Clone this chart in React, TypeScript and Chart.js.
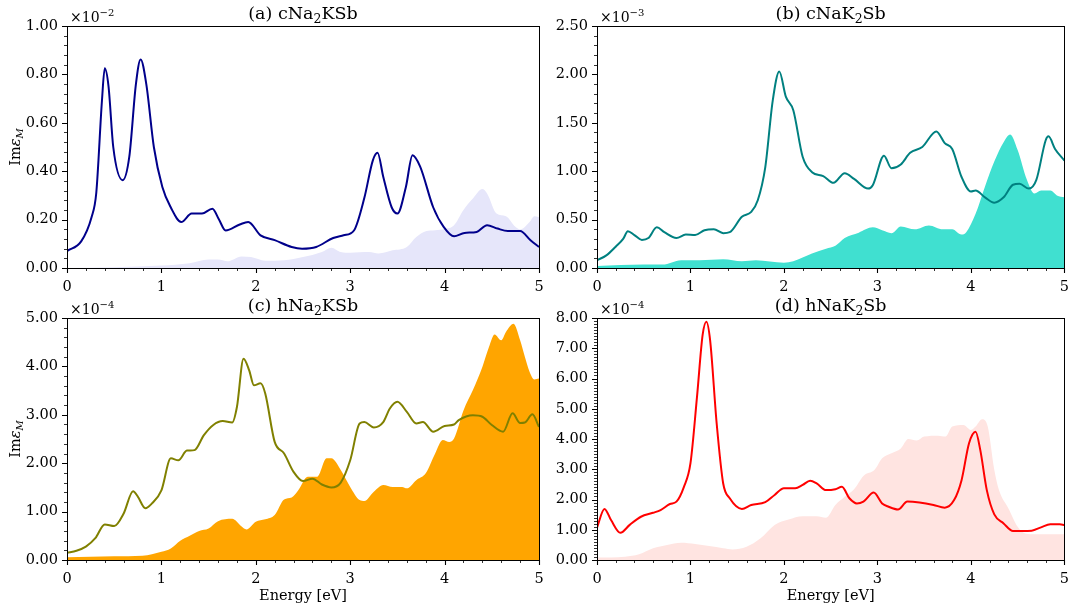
import React, { useEffect, useRef } from 'react';
import { Chart, registerables } from 'chart.js';

Chart.register(...registerables);

const FONT = '"DejaVu Serif", "Liberation Serif", serif';
const W = 1080;
const H = 611;

// ---------- (a) cNa2KSb  (values ×10^-2) ----------
const aLineE = [0, 0.15, 0.26, 0.31, 0.37, 0.40, 0.44, 0.49, 0.59, 0.66, 0.73, 0.78, 0.84, 0.92, 1.01, 1.10, 1.21, 1.32, 1.43, 1.54, 1.61, 1.68, 1.83, 1.92, 2.05, 2.20, 2.38, 2.49, 2.64, 2.82, 2.93, 3.04, 3.15, 3.24, 3.29, 3.35, 3.44, 3.50, 3.59, 3.66, 3.74, 3.88, 3.99, 4.10, 4.21, 4.34, 4.45, 4.56, 4.67, 4.80, 4.91, 5.0];
const aLineV = [0.07, 0.11, 0.21, 0.31, 0.69, 0.825, 0.75, 0.50, 0.363, 0.46, 0.76, 0.862, 0.76, 0.50, 0.335, 0.25, 0.19, 0.225, 0.225, 0.245, 0.20, 0.155, 0.18, 0.19, 0.135, 0.115, 0.087, 0.08, 0.087, 0.124, 0.135, 0.155, 0.29, 0.445, 0.476, 0.377, 0.25, 0.225, 0.335, 0.466, 0.42, 0.25, 0.17, 0.131, 0.145, 0.149, 0.177, 0.163, 0.153, 0.153, 0.115, 0.087];
const aFillE = [0, 0.5, 1.0, 1.3, 1.5, 1.6, 1.7, 1.85, 1.95, 2.1, 2.3, 2.5, 2.7, 2.8, 2.9, 3.0, 3.2, 3.3, 3.45, 3.6, 3.7, 3.8, 3.9, 4.0, 4.1, 4.2, 4.3, 4.4, 4.45, 4.55, 4.65, 4.75, 4.8, 4.9, 4.95, 5.0];
const aFillV = [0.0, 0.003, 0.01, 0.02, 0.035, 0.035, 0.028, 0.048, 0.045, 0.03, 0.032, 0.045, 0.066, 0.084, 0.066, 0.063, 0.066, 0.06, 0.073, 0.087, 0.128, 0.152, 0.156, 0.161, 0.177, 0.24, 0.287, 0.326, 0.308, 0.225, 0.214, 0.17, 0.159, 0.19, 0.214, 0.21];

// ---------- (b) cNaK2Sb  (values ×10^-3) ----------
const bLineE = [0, 0.1, 0.2, 0.28, 0.33, 0.4, 0.48, 0.55, 0.64, 0.72, 0.85, 0.95, 1.05, 1.15, 1.25, 1.35, 1.42, 1.55, 1.65, 1.72, 1.8, 1.88, 1.95, 2.02, 2.1, 2.2, 2.3, 2.42, 2.53, 2.65, 2.75, 2.9, 2.95, 3.07, 3.15, 3.25, 3.35, 3.48, 3.63, 3.72, 3.8, 3.9, 4.0, 4.05, 4.15, 4.25, 4.35, 4.45, 4.52, 4.62, 4.7, 4.8, 4.83, 4.9, 5.0];
const bLineV = [0.08, 0.13, 0.22, 0.30, 0.38, 0.34, 0.29, 0.31, 0.42, 0.37, 0.31, 0.345, 0.34, 0.39, 0.40, 0.36, 0.37, 0.53, 0.58, 0.70, 1.04, 1.73, 2.03, 1.77, 1.63, 1.15, 0.99, 0.95, 0.88, 0.98, 0.92, 0.82, 0.855, 1.16, 1.03, 1.07, 1.19, 1.25, 1.41, 1.29, 1.23, 0.94, 0.79, 0.80, 0.73, 0.675, 0.73, 0.86, 0.87, 0.82, 0.91, 1.32, 1.36, 1.23, 1.11];
const bFillE = [0, 0.5, 0.7, 0.9, 1.1, 1.35, 1.55, 1.7, 2.0, 2.1, 2.3, 2.45, 2.55, 2.65, 2.8, 2.95, 3.05, 3.15, 3.25, 3.4, 3.55, 3.7, 3.8, 3.9, 3.95, 4.05, 4.15, 4.25, 4.35, 4.42, 4.5, 4.6, 4.68, 4.75, 4.85, 4.92, 5.0];
const bFillV = [0.02, 0.035, 0.035, 0.08, 0.08, 0.09, 0.07, 0.08, 0.055, 0.07, 0.15, 0.20, 0.23, 0.31, 0.365, 0.42, 0.39, 0.36, 0.43, 0.40, 0.44, 0.40, 0.40, 0.345, 0.37, 0.56, 0.84, 1.10, 1.30, 1.38, 1.22, 0.91, 0.77, 0.80, 0.80, 0.75, 0.73];

// ---------- (c) hNa2KSb  (values ×10^-4) ----------
const cLineE = [0, 0.1, 0.2, 0.3, 0.4, 0.5, 0.6, 0.7, 0.75, 0.83, 0.9, 1.0, 1.1, 1.18, 1.27, 1.35, 1.45, 1.55, 1.65, 1.75, 1.8, 1.87, 1.93, 1.98, 2.05, 2.1, 2.2, 2.3, 2.4, 2.5, 2.6, 2.7, 2.8, 2.9, 3.0, 3.1, 3.15, 3.25, 3.35, 3.42, 3.5, 3.6, 3.7, 3.77, 3.88, 4.0, 4.1, 4.15, 4.3, 4.4, 4.5, 4.62, 4.72, 4.8, 4.85, 4.93, 5.0];
const cLineV = [0.15, 0.19, 0.275, 0.45, 0.735, 0.70, 0.96, 1.42, 1.31, 1.07, 1.17, 1.44, 2.10, 2.06, 2.26, 2.27, 2.58, 2.79, 2.87, 2.84, 3.16, 4.16, 3.92, 3.61, 3.65, 3.44, 2.44, 2.20, 1.82, 1.63, 1.68, 1.56, 1.50, 1.60, 2.06, 2.82, 2.85, 2.74, 2.85, 3.13, 3.27, 3.06, 2.82, 2.85, 2.65, 2.77, 2.80, 2.89, 2.99, 2.96, 2.79, 2.65, 3.03, 2.83, 2.84, 3.01, 2.75];
const cFillE = [0, 0.5, 0.8, 1.0, 1.1, 1.2, 1.3, 1.4, 1.5, 1.6, 1.75, 1.85, 1.9, 2.0, 2.1, 2.2, 2.3, 2.38, 2.45, 2.55, 2.65, 2.75, 2.8, 2.9, 3.0, 3.1, 3.15, 3.25, 3.35, 3.45, 3.55, 3.6, 3.7, 3.8, 3.9, 3.98, 4.05, 4.1, 4.2, 4.3, 4.4, 4.47, 4.53, 4.6, 4.65, 4.73, 4.8, 4.85, 4.9, 4.95, 5.0];
const cFillV = [0.055, 0.08, 0.09, 0.17, 0.24, 0.40, 0.50, 0.60, 0.65, 0.80, 0.85, 0.69, 0.63, 0.79, 0.84, 0.93, 1.25, 1.29, 1.44, 1.72, 1.72, 2.10, 2.10, 1.86, 1.51, 1.24, 1.22, 1.41, 1.55, 1.51, 1.51, 1.48, 1.65, 1.79, 2.20, 2.48, 2.44, 2.51, 3.09, 3.51, 3.99, 4.40, 4.66, 4.54, 4.71, 4.88, 4.54, 4.20, 3.89, 3.73, 3.75];

// ---------- (d) hNaK2Sb  (values ×10^-4) ----------
const dLineE = [0, 0.08, 0.15, 0.25, 0.35, 0.47, 0.6, 0.68, 0.78, 0.85, 0.93, 1.0, 1.07, 1.13, 1.17, 1.21, 1.28, 1.35, 1.42, 1.55, 1.65, 1.8, 1.9, 2.0, 2.12, 2.2, 2.28, 2.35, 2.45, 2.55, 2.62, 2.7, 2.78, 2.85, 2.96, 3.05, 3.12, 3.22, 3.32, 3.45, 3.6, 3.72, 3.82, 3.9, 3.98, 4.05, 4.1, 4.17, 4.25, 4.35, 4.45, 4.55, 4.65, 4.75, 4.85, 4.95, 5.0];
const dLineV = [1.07, 1.69, 1.32, 0.90, 1.16, 1.43, 1.56, 1.65, 1.85, 1.93, 2.42, 3.20, 5.40, 7.44, 7.88, 7.27, 4.52, 2.53, 2.04, 1.69, 1.82, 1.91, 2.15, 2.37, 2.37, 2.48, 2.62, 2.53, 2.31, 2.34, 2.42, 2.04, 1.87, 1.93, 2.23, 1.87, 1.76, 1.67, 1.93, 1.90, 1.82, 1.73, 1.98, 2.64, 3.86, 4.24, 3.64, 2.31, 1.51, 1.21, 0.96, 0.96, 0.97, 1.08, 1.18, 1.18, 1.16];
const dFillE = [0, 0.3, 0.45, 0.6, 0.75, 0.9, 1.05, 1.2, 1.35, 1.45, 1.6, 1.75, 1.9, 2.05, 2.2, 2.35, 2.45, 2.55, 2.65, 2.75, 2.85, 2.97, 3.05, 3.15, 3.25, 3.33, 3.42, 3.5, 3.65, 3.73, 3.8, 3.92, 4.0, 4.05, 4.12, 4.18, 4.25, 4.3, 4.4, 4.5, 4.58, 4.7, 5.0];
const dFillV = [0.08, 0.11, 0.19, 0.39, 0.50, 0.57, 0.53, 0.46, 0.39, 0.35, 0.44, 0.72, 1.16, 1.34, 1.45, 1.45, 1.40, 1.82, 2.09, 2.34, 2.78, 2.98, 3.36, 3.53, 3.69, 4.00, 3.95, 4.08, 4.11, 4.08, 4.41, 4.46, 4.30, 4.41, 4.65, 4.41, 2.98, 2.31, 1.71, 1.10, 0.88, 0.85, 0.85];

// Axis settings
const xTicks = [0, 1, 2, 3, 4, 5];

type Seg = { t: string; size: number; dy?: number; italic?: boolean };

function drawRich(ctx: CanvasRenderingContext2D, segs: Seg[], x: number, y: number, align: 'left' | 'center') {
  const fontOf = (s: Seg) => `${s.italic ? 'italic ' : ''}${s.size}px ${FONT}`;
  let total = 0;
  const widths = segs.map((s) => {
    ctx.font = fontOf(s);
    const w = ctx.measureText(s.t).width;
    total += w;
    return w;
  });
  let cx = align === 'center' ? x - total / 2 : x;
  ctx.textAlign = 'left';
  ctx.textBaseline = 'alphabetic';
  segs.forEach((s, i) => {
    ctx.font = fontOf(s);
    ctx.fillText(s.t, cx, y + (s.dy || 0));
    cx += widths[i];
  });
}

type Panel = {
  lineE: number[];
  lineV: number[];
  fillE: number[];
  fillV: number[];
  lineColor: string;
  fillColor: string;
  yMax: number;
  yStep: number;
  yMinor: number;
  title: Seg[];
  exp: string;
  area: { left: number; right: number; top: number; bottom: number };
  yLabel: boolean;
  xLabel: boolean;
};

const T = 17.5;
const S = 12.5;
const panels: Panel[] = [
  {
    lineE: aLineE, lineV: aLineV, fillE: aFillE, fillV: aFillV,
    lineColor: '#00008B', fillColor: '#E6E6FA',
    yMax: 1, yStep: 0.2, yMinor: 0.04,
    title: [{ t: '(a) cNa', size: T }, { t: '2', size: S, dy: 3.5 }, { t: 'KSb', size: T }],
    exp: '−2',
    area: { left: 67, right: 539, top: 26, bottom: 268 },
    yLabel: true, xLabel: false,
  },
  {
    lineE: bLineE, lineV: bLineV, fillE: bFillE, fillV: bFillV,
    lineColor: '#008080', fillColor: '#40E0D0',
    yMax: 2.5, yStep: 0.5, yMinor: 0.1,
    title: [{ t: '(b) cNaK', size: T }, { t: '2', size: S, dy: 3.5 }, { t: 'Sb', size: T }],
    exp: '−3',
    area: { left: 597, right: 1068, top: 26, bottom: 268 },
    yLabel: false, xLabel: false,
  },
  {
    lineE: cLineE, lineV: cLineV, fillE: cFillE, fillV: cFillV,
    lineColor: '#808000', fillColor: '#FFA500',
    yMax: 5, yStep: 1, yMinor: 0.2,
    title: [{ t: '(c) hNa', size: T }, { t: '2', size: S, dy: 3.5 }, { t: 'KSb', size: T }],
    exp: '−4',
    area: { left: 67, right: 539, top: 318, bottom: 560 },
    yLabel: true, xLabel: true,
  },
  {
    lineE: dLineE, lineV: dLineV, fillE: dFillE, fillV: dFillV,
    lineColor: '#FF0000', fillColor: '#FFE4E1',
    yMax: 8, yStep: 1, yMinor: 0.1,
    title: [{ t: '(d) hNaK', size: T }, { t: '2', size: S, dy: 3.5 }, { t: 'Sb', size: T }],
    exp: '−4',
    area: { left: 597, right: 1068, top: 318, bottom: 560 },
    yLabel: false, xLabel: true,
  },
];

const YW = 55;
const XH = 30;
const TICK_FONT = 14.5;

function PanelChart({ p }: { p: Panel }) {
  const ref = useRef<HTMLCanvasElement | null>(null);
  useEffect(() => {
    if (!ref.current) return;
    const decor = {
      id: 'decor',
      afterDraw(chart: any) {
        const ctx: CanvasRenderingContext2D = chart.ctx;
        const ca = chart.chartArea;
        const xs = chart.scales.x;
        const ys = chart.scales.y;
        ctx.save();
        ctx.strokeStyle = '#000';
        // minor ticks
        ctx.lineWidth = 0.8;
        ctx.beginPath();
        for (let v = 0; v <= 5 + 1e-9; v += 0.2) {
          if (Math.abs(v - Math.round(v)) < 1e-6) continue;
          const px = Math.round(xs.getPixelForValue(v)) + 0.5;
          ctx.moveTo(px, ca.bottom);
          ctx.lineTo(px, ca.bottom + 3);
        }
        const nMinor = Math.round(p.yMax / p.yMinor);
        const per = Math.round(p.yStep / p.yMinor);
        for (let i = 0; i <= nMinor; i++) {
          if (i % per === 0) continue;
          const py = Math.round(ys.getPixelForValue(i * p.yMinor)) + 0.5;
          ctx.moveTo(ca.left, py);
          ctx.lineTo(ca.left - 3, py);
        }
        ctx.stroke();
        // major ticks
        ctx.lineWidth = 1.1;
        ctx.beginPath();
        xTicks.forEach((v) => {
          const px = Math.round(xs.getPixelForValue(v)) + 0.5;
          ctx.moveTo(px, ca.bottom);
          ctx.lineTo(px, ca.bottom + 5);
        });
        const nMaj = Math.round(p.yMax / p.yStep);
        for (let i = 0; i <= nMaj; i++) {
          const py = Math.round(ys.getPixelForValue(i * p.yStep)) + 0.5;
          ctx.moveTo(ca.left, py);
          ctx.lineTo(ca.left - 5, py);
        }
        ctx.stroke();
        // frame
        ctx.lineWidth = 1;
        ctx.strokeRect(Math.round(ca.left) + 0.5, Math.round(ca.top) + 0.5, Math.round(ca.right - ca.left), Math.round(ca.bottom - ca.top));
        // texts
        ctx.fillStyle = '#000';
        drawRich(ctx, p.title, (ca.left + ca.right) / 2, ca.top - 7, 'center');
        drawRich(ctx, [{ t: '×10', size: 14 }, { t: p.exp, size: 10, dy: -6 }], ca.left + 3, ca.top - 4.5, 'left');
        if (p.yLabel) {
          ctx.save();
          ctx.translate(20, (ca.top + ca.bottom) / 2);
          ctx.rotate(-Math.PI / 2);
          drawRich(ctx, [{ t: 'Im', size: 14.5 }, { t: 'ε', size: 14.5, italic: true }, { t: 'M', size: 10, italic: true, dy: 3 }], 0, 0, 'center');
          ctx.restore();
        }
        if (p.xLabel) {
          drawRich(ctx, [{ t: 'Energy [eV]', size: 14.5 }], (ca.left + ca.right) / 2, ca.bottom + 40, 'center');
        }
        ctx.restore();
      },
    };

    const chart = new Chart(ref.current, {
      type: 'line',
      data: {
        datasets: [
          {
            data: p.lineE.map((x, i) => ({ x, y: p.lineV[i] })),
            borderColor: p.lineColor,
            borderWidth: 2,
            pointRadius: 0,
            fill: false,
            cubicInterpolationMode: 'monotone',
            order: 0,
          },
          {
            data: p.fillE.map((x, i) => ({ x, y: p.fillV[i] })),
            borderColor: 'rgba(0,0,0,0)',
            borderWidth: 0,
            backgroundColor: p.fillColor,
            pointRadius: 0,
            fill: 'origin',
            cubicInterpolationMode: 'monotone',
            order: 1,
          },
        ],
      },
      options: {
        responsive: false,
        animation: false,
        events: [],
        layout: {
          padding: {
            left: p.area.left - YW,
            right: W - p.area.right,
            top: p.area.top,
            bottom: H - p.area.bottom - XH,
          },
        },
        plugins: {
          legend: { display: false },
          tooltip: { enabled: false },
          title: { display: false },
        },
        scales: {
          x: {
            type: 'linear',
            min: 0,
            max: 5,
            grid: { display: false, drawTicks: false },
            border: { display: false },
            ticks: {
              stepSize: 1,
              autoSkip: false,
              maxRotation: 0,
              padding: 11,
              color: '#000',
              font: { family: FONT, size: TICK_FONT },
              callback: (v: any) => String(v),
            },
            afterFit: (s: any) => {
              s.height = XH;
            },
          },
          y: {
            type: 'linear',
            min: 0,
            max: p.yMax,
            grid: { display: false, drawTicks: false },
            border: { display: false },
            ticks: {
              stepSize: p.yStep,
              autoSkip: false,
              padding: 9,
              color: '#000',
              font: { family: FONT, size: TICK_FONT },
              callback: (v: any) => Number(v).toFixed(2),
            },
            afterFit: (s: any) => {
              s.width = YW;
            },
          },
        },
      } as any,
      plugins: [decor],
    });
    return () => chart.destroy();
  }, [p]);
  return (
    <canvas
      ref={ref}
      width={W}
      height={H}
      style={{ position: 'absolute', left: 0, top: 0, width: W, height: H }}
    />
  );
}

export default function App() {
  useEffect(() => {
    document.body.style.margin = '0';
  }, []);
  return (
    <div style={{ position: 'fixed', left: 0, top: 0, width: W, height: H, background: '#fff', overflow: 'hidden' }}>
      {panels.map((p, i) => (
        <PanelChart key={i} p={p} />
      ))}
    </div>
  );
}
